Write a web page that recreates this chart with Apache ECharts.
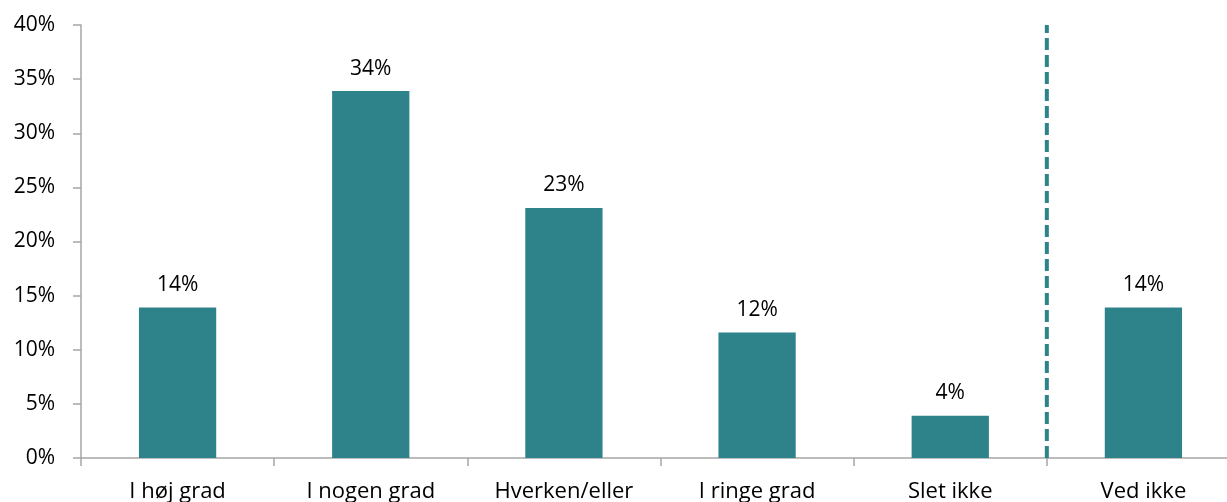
<!DOCTYPE html>
<html><head><meta charset="utf-8">
<script src="https://cdn.jsdelivr.net/npm/echarts@6/dist/echarts.min.js"></script>
<style>html,body{margin:0;padding:0;background:#fff}#c{width:1227px;height:502px}</style>
</head><body><div id="c"></div>
<script>
const categories = ['I høj grad', 'I nogen grad', 'Hverken/eller', 'I ringe grad', 'Slet ikke', 'Ved ikke'];
const values = [13.9, 33.9, 23.1, 11.6, 3.9, 13.9];
const yTicks = [0, 5, 10, 15, 20, 25, 30, 35, 40];
const dividerPos = 5;

const FONT = '"Open Sans", "Noto Sans", sans-serif';
const chart = echarts.init(document.getElementById('c'));
chart.setOption({
  animation: false,
  textStyle: { fontFamily: FONT },
  grid: { left: 81, top: 25, bottom: 44, width: 1159, outerBoundsMode: 'none', containLabel: false },
  xAxis: [{
    type: 'category', data: categories,
    axisLine: { lineStyle: { color: '#A6A6A6', width: 1.5 } },
    axisTick: { show: true, length: 8, lineStyle: { color: '#A6A6A6', width: 1.5 } },
    axisLabel: { color: '#000', fontSize: 22, margin: 23, fontFamily: FONT }
  }, {
    type: 'value', min: 0, max: categories.length, show: false
  }],
  yAxis: {
    type: 'value', min: yTicks[0], max: yTicks[yTicks.length - 1], interval: 5,
    splitLine: { show: false },
    axisLine: { show: true, lineStyle: { color: '#A6A6A6', width: 1.5 } },
    axisTick: { show: true, length: 8, lineStyle: { color: '#A6A6A6', width: 1.5 } },
    axisLabel: { color: '#000', fontSize: 21, margin: 26, fontFamily: FONT, formatter: v => v + '%' }
  },
  series: [{
    type: 'bar', data: values, barWidth: '40%',
    itemStyle: { color: '#2E8289' },
    label: { show: true, position: 'top', distance: 12, color: '#000', fontSize: 21, fontFamily: FONT,
      formatter: p => Math.round(p.value) + '%' }
  }, {
    type: 'line', xAxisIndex: 1,
    data: [[dividerPos, yTicks[0]], [dividerPos, yTicks[yTicks.length - 1]]],
    symbol: 'none', silent: true,
    lineStyle: { color: '#2E8289', width: 4, type: [12, 5] }
  }]
});
</script></body></html>
